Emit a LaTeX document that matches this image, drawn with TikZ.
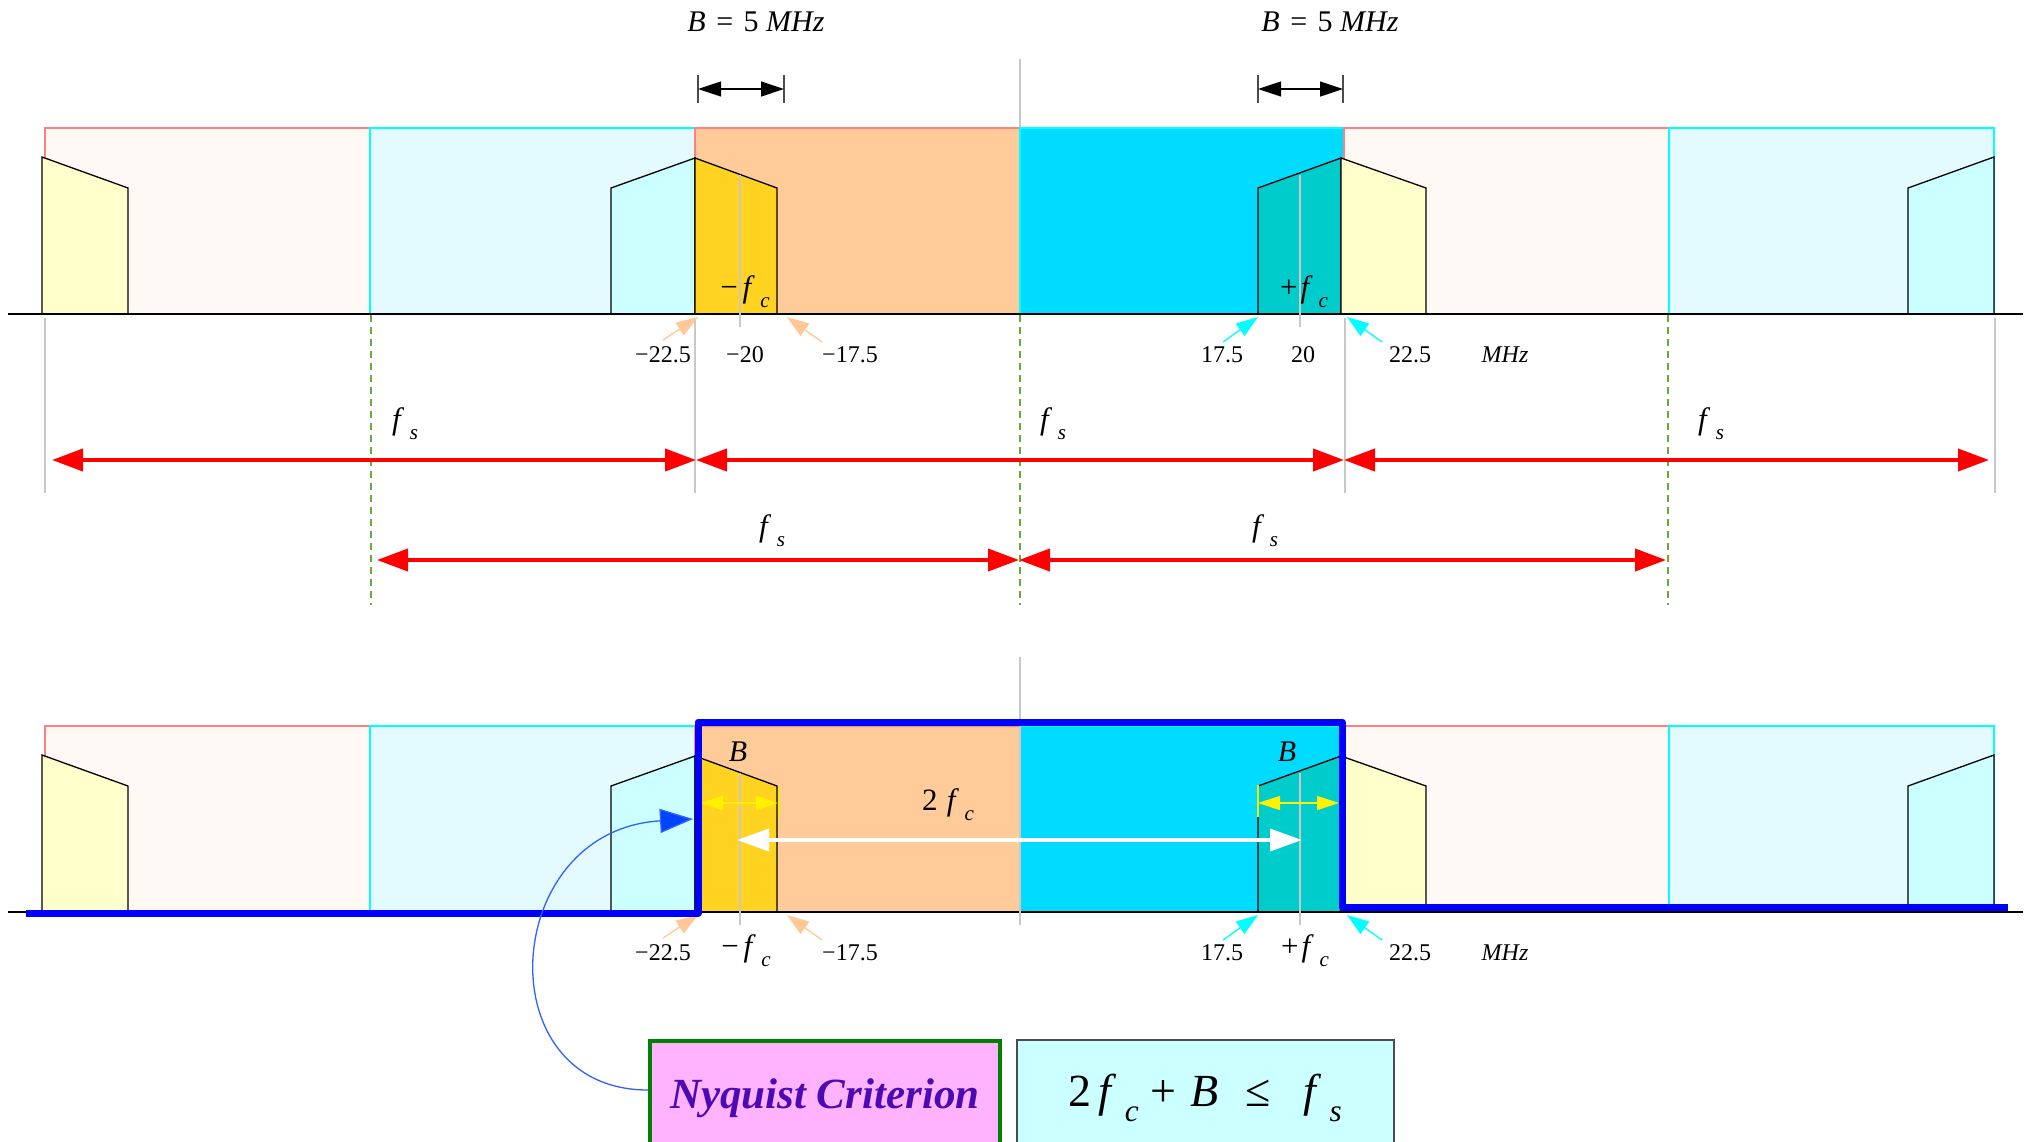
\documentclass[tikz,border=0pt]{standalone}
\usepackage{fontspec}
\setmainfont{Liberation Serif}
\usepackage{graphicx}
\usetikzlibrary{arrows.meta}
\definecolor{palepink}{HTML}{FFF9F5}
\definecolor{pinkbd}{HTML}{FF8080}
\definecolor{palecyan}{HTML}{E3FAFF}
\definecolor{cyanbd}{HTML}{00FFFF}
\definecolor{orangefill}{HTML}{FFCC99}
\definecolor{brightcyan}{HTML}{00DCFF}
\definecolor{ltyellow}{HTML}{FFFFCC}
\definecolor{ltcyan}{HTML}{CCFFFF}
\definecolor{goldfill}{HTML}{FFD320}
\definecolor{tealfill}{HTML}{00CCCC}
\definecolor{peach}{HTML}{FFC896}
\definecolor{dashgreen}{HTML}{6AAA3A}
\definecolor{curveblue}{HTML}{2D62FF}
\definecolor{tipblue}{HTML}{0044FF}
\definecolor{nyqfill}{HTML}{FFB3FF}
\definecolor{nyqtext}{HTML}{4B0AB4}
\definecolor{nyqbd}{HTML}{008000}
\definecolor{guidegray}{HTML}{C8C8C8}
\newcommand{\fsb}[2]{\textit{#1}\kern0.18em\raisebox{-0.33em}{\scalebox{0.68}{\textit{#2}}}}
\newcommand{\fz}[1]{\fontsize{#1}{#1}\selectfont}
\begin{document}
\begin{tikzpicture}[x=1pt,y=-1pt,
  bandA/.style={fill=palepink, draw=pinkbd, line width=1.5pt},
  bandB/.style={fill=palecyan, draw=cyanbd, line width=1.5pt},
  bandO/.style={fill=orangefill, draw=pinkbd, line width=1.5pt},
  bandC/.style={fill=brightcyan, draw=cyanbd, line width=1.5pt},
  spec/.style={draw=black, line width=1.3pt, line join=miter},
  axisln/.style={draw=black, line width=1.6pt},
  guide/.style={draw=guidegray, line width=1.3pt},
  gdash/.style={draw=dashgreen, line width=1.3pt, dash pattern=on 7pt off 5pt},
  fsarrow/.style={draw=red, line width=4pt, {Triangle[length=31pt,width=22pt]}-{Triangle[length=31pt,width=22pt]}},
  dimarrow/.style={draw=black, line width=1.2pt, {Triangle[length=23pt,width=15pt]}-{Triangle[length=23pt,width=15pt]}},
  dimtick/.style={draw=black!70, line width=1.5pt},
  peacharrow/.style={draw=peach, fill=peach, line width=1.3pt, -{Triangle[length=22pt,width=15pt]}},
  cyanarrow/.style={draw=cyanbd, fill=cyanbd, line width=1.3pt, -{Triangle[length=22pt,width=15pt]}},
  ticklab/.style={inner sep=0pt, font=\fz{24}},
  mathlab/.style={inner sep=0pt, font=\fz{31}},
  blueln/.style={draw=blue, line width=7pt, line join=round},
  yarrow/.style={draw=yellow, line width=1.6pt, {Triangle[length=22pt,width=14pt]}-{Triangle[length=22pt,width=14pt]}},
  ytick/.style={draw=yellow!90!orange, line width=2pt},
  warrow/.style={draw=white, line width=4pt, {Triangle[length=32pt,width=22pt]}-{Triangle[length=32pt,width=22pt]}},
  curvearrow/.style={draw=curveblue, line width=1.3pt, -{Triangle[length=33pt,width=24pt,fill=tipblue]}}
]
\useasboundingbox (0,0) rectangle (2031,1141);
\fill[white] (0,0) rectangle (2031,1141);

% ---------- top-only guides ----------
\draw[guide] (1020,59) -- (1020,128);
\foreach \gx/\gn in {45/a,695/b,1345/c,1995/d}{
  \coordinate (gt\gn) at (\gx,318);
  \coordinate (gb\gn) at (\gx,493);
  \draw[guide] (gt\gn) -- (gb\gn);
}
\foreach \gx/\gn in {371/a,1020/b,1668/c}{
  \coordinate (dt\gn) at (\gx,315);
  \coordinate (db\gn) at (\gx,605);
  \draw[gdash] (dt\gn) -- (db\gn);
}
% bottom panel centre guide
\coordinate (cgt) at (1020,657);
\coordinate (cgb) at (1020,925);

% ---------- both panels ----------
\foreach \dy/\s in {0/t,598/b}{
  \draw[bandA] (45,128+\dy) rectangle (370,314+\dy);
  \draw[bandB] (370,128+\dy) rectangle (695,314+\dy);
  \draw[bandO] (695,128+\dy) rectangle (1020,314+\dy);
  \draw[bandC] (1020,128+\dy) rectangle (1344,314+\dy);
  \draw[bandA] (1344,128+\dy) rectangle (1669,314+\dy);
  \draw[bandB] (1669,128+\dy) rectangle (1994,314+\dy);
  % spectra
  \draw[spec, fill=ltyellow] (42,314+\dy) -- (42,157+\dy) -- (128,188+\dy) -- (128,314+\dy) -- cycle;
  \draw[spec, fill=ltcyan] (611,314+\dy) -- (611,188+\dy) -- (695,158+\dy) -- (695,314+\dy) -- cycle;
  \draw[spec, fill=goldfill] (695,314+\dy) -- (695,158+\dy) -- (777,188+\dy) -- (777,314+\dy) -- cycle;
  \draw[spec, fill=tealfill] (1258,314+\dy) -- (1258,188+\dy) -- (1341,158+\dy) -- (1341,314+\dy) -- cycle;
  \draw[spec, fill=ltyellow] (1341,314+\dy) -- (1341,158+\dy) -- (1426,188+\dy) -- (1426,314+\dy) -- cycle;
  \draw[spec, fill=ltcyan] (1908,314+\dy) -- (1908,188+\dy) -- (1994,157+\dy) -- (1994,314+\dy) -- cycle;
  % axis
  \draw[axisln] (8,314+\dy) -- (2023,314+\dy);
  % small pointer arrows
  \coordinate (pa1\s) at (663,340+\dy); \coordinate (pb1\s) at (698,317+\dy);
  \coordinate (pa2\s) at (822,342+\dy); \coordinate (pb2\s) at (787,317+\dy);
  \coordinate (ca1\s) at (1223,342+\dy); \coordinate (cb1\s) at (1258,317+\dy);
  \coordinate (ca2\s) at (1382,342+\dy); \coordinate (cb2\s) at (1347,317+\dy);
  \draw[peacharrow] (pa1\s) -- (pb1\s);
  \draw[peacharrow] (pa2\s) -- (pb2\s);
  \draw[cyanarrow] (ca1\s) -- (cb1\s);
  \draw[cyanarrow] (ca2\s) -- (cb2\s);
  % tick labels
  \node[ticklab] (lm225\s) at (663,355+\dy) {−22.5};
  \node[ticklab] (lm175\s) at (850,355+\dy) {−17.5};
  \node[ticklab] (lp175\s) at (1222,355+\dy) {17.5};
  \node[ticklab] (lp225\s) at (1410,355+\dy) {22.5};
  \node[ticklab] (lmhz\s) at (1505,355+\dy) {\textit{MHz}};
}

% ---------- top panel specifics ----------
\draw[guide] (740,175) -- (740,327);
\draw[guide] (1300,175) -- (1300,327);
\node[ticklab] (lm20) at (745,355) {−20};
\node[ticklab] (lp20) at (1303,355) {20};
\node[mathlab] (mfct) at (745,292) {−\kern0.15em\fsb{f}{c}};
\node[mathlab] (pfct) at (1304,292) {+\kern0.1em\fsb{f}{c}};

% bandwidth dimension marks
\coordinate (d1a) at (698,89); \coordinate (d1b) at (784,89);
\coordinate (d2a) at (1258,89); \coordinate (d2b) at (1343,89);
\draw[dimtick] (698,75) -- (698,103);
\draw[dimtick] (784,75) -- (784,103);
\draw[dimtick] (1258,75) -- (1258,103);
\draw[dimtick] (1343,75) -- (1343,103);
\draw[dimarrow] (d1a) -- (d1b);
\draw[dimarrow] (d2a) -- (d2b);
\node[inner sep=0pt, font=\fz{30}] (bw1) at (756,22) {\textit{B}\kern0.35em=\kern0.35em5\kern0.25em\textit{MHz}};
\node[inner sep=0pt, font=\fz{30}] (bw2) at (1330,22) {\textit{B}\kern0.35em=\kern0.35em5\kern0.25em\textit{MHz}};

% fs arrows
\coordinate (r1a) at (52,460); \coordinate (r1b) at (696,460);
\coordinate (r1c) at (1344,460); \coordinate (r1d) at (1989,460);
\coordinate (r2a) at (377,560); \coordinate (r2b) at (1019,560); \coordinate (r2c) at (1666,560);
\draw[fsarrow] (r1a) -- (r1b);
\draw[fsarrow] (r1b) -- (r1c);
\draw[fsarrow] (r1c) -- (r1d);
\draw[fsarrow] (r2a) -- (r2b);
\draw[fsarrow] (r2b) -- (r2c);
\node[mathlab] (fs1) at (405,424) {\fsb{f}{s}};
\node[mathlab] (fs2) at (1053,424) {\fsb{f}{s}};
\node[mathlab] (fs3) at (1711,424) {\fsb{f}{s}};
\node[mathlab] (fs4) at (772,531) {\fsb{f}{s}};
\node[mathlab] (fs5) at (1265,531) {\fsb{f}{s}};

% ---------- bottom panel specifics ----------
\draw[guide] (cgt) -- (cgb);
\draw[guide] (740,773) -- (740,925);
\draw[guide] (1300,773) -- (1300,925);
\node[mathlab] (mfcb) at (746,951) {−\kern0.15em\fsb{f}{c}};
\node[mathlab] (pfcb) at (1305,951) {+\kern0.1em\fsb{f}{c}};
\node[inner sep=0pt, font=\fz{30}] (bl) at (738,752) {\textit{B}};
\node[inner sep=0pt, font=\fz{30}] (br) at (1287,752) {\textit{B}};
% yellow bandwidth arrows
\draw[ytick] (779,787) -- (779,817);
\draw[ytick] (1258,785) -- (1258,817);
\coordinate (y1a) at (701,803); \coordinate (y1b) at (778,803);
\coordinate (y2a) at (1258,803); \coordinate (y2b) at (1339,803);
\draw[yarrow] (y1a) -- (y1b);
\draw[yarrow] (y2a) -- (y2b);
% 2fc arrow
\coordinate (w1) at (737,840); \coordinate (w2) at (1302,840);
\draw[warrow] (w1) -- (w2);
\node[inner sep=0pt, font=\fz{31}] (twofc) at (948,805) {2\kern0.3em\fsb{f}{c}};
% blue filter outline
\coordinate (q1) at (26,913); \coordinate (q2) at (698,913); \coordinate (q3) at (698,722);
\coordinate (q4) at (1342,722); \coordinate (q5) at (1342,907); \coordinate (q6) at (2008,907);
\draw[blueln] (q1) -- (q2) -- (q3) -- (q4) -- (q5) -- (q6);

% ---------- boxes ----------
\node[draw=nyqbd, line width=3.5pt, fill=nyqfill, anchor=north west,
      minimum width=350pt, minimum height=116pt, inner sep=0pt,
      text=nyqtext, font=\fz{43}\bfseries\itshape] (nyq) at (648,1039) {\raisebox{0.25em}{Nyquist Criterion}};
\node[draw=black!70, line width=1.5pt, fill=ltcyan, anchor=north west,
      minimum width=377pt, minimum height=116pt, inner sep=0pt,
      font=\fz{46}] (frm) at (1016,1039)
      {\raisebox{0.25em}{2\kern0.15em\fsb{f}{c}\kern0.25em+\kern0.3em\textit{B}\kern0.6em≤\kern0.7em\fsb{f}{s}}};
\coordinate (tipL) at (693,819);
\coordinate (cstart) at (648,1090);
\draw[curvearrow] (cstart) .. controls (485,1090) and (500,830) .. (tipL);
\end{tikzpicture}
\end{document}
